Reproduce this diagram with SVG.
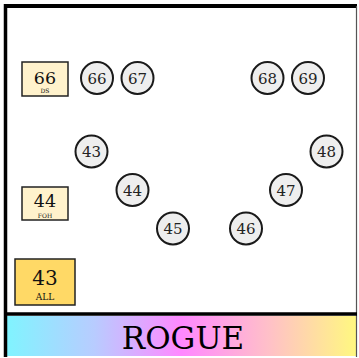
<svg xmlns="http://www.w3.org/2000/svg" width="359" height="358" viewBox="0 0 359 358">
<defs>
<linearGradient id="bar" x1="0" y1="0" x2="1" y2="0">
<stop offset="0" stop-color="#80F4FF"/>
<stop offset="0.25" stop-color="#B8CCFF"/>
<stop offset="0.5" stop-color="#FF88FF"/>
<stop offset="0.75" stop-color="#FFC0C8"/>
<stop offset="1" stop-color="#FFF880"/>
</linearGradient>
</defs>
<style>
.ch circle{fill:#EEEEEE;stroke:#1a1a1a;stroke-width:2}
.ch text{font-family:"DejaVu Serif","Liberation Serif",serif;font-size:15px;fill:#222;text-anchor:middle}
.sub rect{stroke:#222;stroke-width:1.5}
.sub text{font-family:"DejaVu Serif","Liberation Serif",serif;fill:#111;text-anchor:middle}
.big{font-size:17.5px}
.small{font-size:6px}
</style>
<rect x="0" y="0" width="359" height="358" fill="#fff"/>
<rect x="7" y="316" width="349" height="40" fill="url(#bar)"/>
<g id="frame" fill="none">
<line x1="5.5" y1="4" x2="5.5" y2="357" stroke="#000" stroke-width="3.5"/>
<line x1="4" y1="6" x2="357" y2="6" stroke="#000" stroke-width="4"/>
<line x1="356.5" y1="6" x2="356.5" y2="357" stroke="#555" stroke-width="1.2"/>
<line x1="4" y1="314" x2="357" y2="314" stroke="#000" stroke-width="3.5"/>
</g>
<text x="183" y="349" font-family="DejaVu Serif,Liberation Serif,serif" font-size="31" text-anchor="middle" fill="#000">ROGUE</text>
<g id="connectors"/>
<g id="sub66" class="sub"><rect x="22" y="62" width="46" height="34" fill="#FFF2CC"/><text x="45" y="84" class="big">66</text><text x="45" y="93" class="small">DS</text></g>
<g id="sub44" class="sub"><rect x="22" y="187" width="46" height="33" fill="#FFF2CC"/><text x="45" y="207" class="big">44</text><text x="45" y="217.5" class="small">FOH</text></g>
<g id="sub43" class="sub"><rect x="15" y="259" width="60" height="46" fill="#FFD966"/><text x="45" y="285" font-size="20px">43</text><text x="45" y="300" font-size="9px">ALL</text></g>
<g id="ch66" class="ch"><circle cx="97" cy="78" r="16"/><text x="97" y="83.5">66</text></g>
<g id="ch67" class="ch"><circle cx="137.5" cy="78" r="16"/><text x="137.5" y="83.5">67</text></g>
<g id="ch68" class="ch"><circle cx="267.5" cy="78" r="16"/><text x="267.5" y="83.5">68</text></g>
<g id="ch69" class="ch"><circle cx="308" cy="78" r="16"/><text x="308" y="83.5">69</text></g>
<g id="ch43" class="ch"><circle cx="91.5" cy="151.5" r="16"/><text x="91.5" y="157">43</text></g>
<g id="ch44" class="ch"><circle cx="132.5" cy="190" r="16"/><text x="132.5" y="195.5">44</text></g>
<g id="ch45" class="ch"><circle cx="173" cy="228.5" r="16"/><text x="173" y="234">45</text></g>
<g id="ch46" class="ch"><circle cx="246" cy="228.5" r="16"/><text x="246" y="234">46</text></g>
<g id="ch47" class="ch"><circle cx="286" cy="190" r="16"/><text x="286" y="195.5">47</text></g>
<g id="ch48" class="ch"><circle cx="326.5" cy="151.5" r="16"/><text x="326.5" y="157">48</text></g>
</svg>
